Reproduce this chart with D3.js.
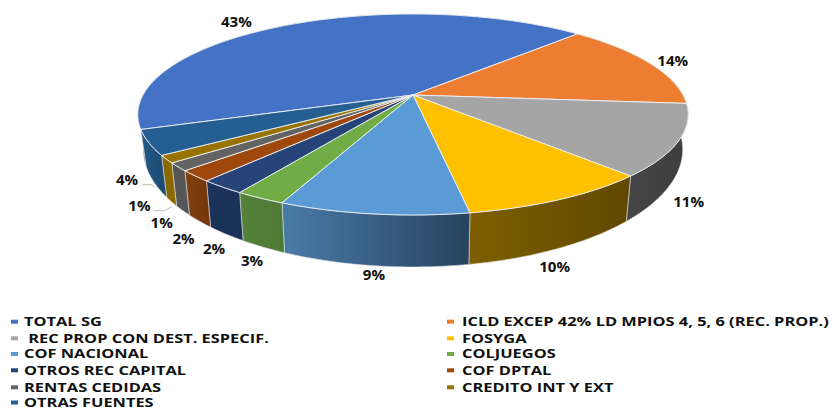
<!DOCTYPE html>
<html><head><meta charset="utf-8">
<script src="https://cdn.jsdelivr.net/npm/d3@7"></script>
<style>html,body{margin:0;padding:0;background:#fff}svg{display:block}text{font-family:"Open Sans",sans-serif;font-weight:700;fill:#111}</style>
</head><body><svg id="c" width="830" height="408"></svg>
<script>
const categories=["TOTAL SG","ICLD EXCEP 42% LD MPIOS 4, 5, 6 (REC. PROP.)"," REC PROP CON DEST. ESPECIF.","FOSYGA","COF NACIONAL","COLJUEGOS","OTROS REC CAPITAL","COF DPTAL","RENTAS CEDIDAS","CREDITO INT Y EXT","OTRAS FUENTES"];
const values=[42.8,14.2,11.49,9.5,9.3,2.5,2.3,1.8,1.3,1.2,4.0];
const labels=["43%","14%","11%","10%","9%","3%","2%","2%","1%","1%","4%"];
const topColors=["#4472c4","#ed7d31","#a5a5a5","#ffc000","#5b9bd5","#70ad47","#264478","#9e480e","#636363","#997300","#255e91"];
const wallFrom=["#34588f","#b05c24","#454545","#7d5e00","#4a7ba8","#54823a","#1b3259","#83400f","#565656","#8a6800","#225a88"];
const wallTo=["#34588f","#b05c24","#3e3e3e","#614800","#26435f","#4f7a36","#1b3259","#74370c","#565656","#8a6800","#1d4c74"];
const labelNudge=[[-51,-3],[23,-2],[15,23],[-3,19],[0,10],[-11,14],[-12,15.5],[-16,18],[-21,13],[-32,5],[-27,-1.5]];
const leaders=[false,false,false,false,false,false,false,false,false,true,true];

const svg=d3.select("#c");
const cx=413,cy=95,R=270,S=96.7,k=0.194;
const rimTop=t=>{const s=-Math.cos(t),c=Math.sin(t),w=1-k*s;return [cx+R*c/w,cy+S*s/w];};
const low=p=>[cx+(p[0]-cx)*0.98,150+(p[1]-115)*1.17];
const pie=d3.pie().value(d=>d).sort(null).startAngle(-109.5*Math.PI/180).endAngle((-109.5+360)*Math.PI/180);
const arcs=pie(values);
const samples=(a,b)=>d3.range(0,Math.max(2,Math.ceil((b-a)/0.02))+1).map((i,_,r)=>a+(b-a)*i/(r.length-1));
const line=d3.line();
const defs=svg.append("defs");
arcs.forEach((d,i)=>{
  const a=rimTop(d.startAngle),b=rimTop(d.endAngle);
  const g=defs.append("linearGradient").attr("id","w"+i).attr("gradientUnits","userSpaceOnUse")
    .attr("x1",Math.min(a[0],b[0])).attr("x2",Math.max(a[0],b[0])).attr("y1",0).attr("y2",0);
  g.append("stop").attr("offset",0).attr("stop-color",wallFrom[i]);
  g.append("stop").attr("offset",1).attr("stop-color",wallTo[i]);
});
const wallPts=d=>{const p=samples(d.startAngle,d.endAngle).map(rimTop);return p.concat(p.slice().reverse().map(low));};
svg.append("g").selectAll("path").data(arcs).join("path")
  .attr("d",d=>line(wallPts(d))+"Z").attr("fill",(d,i)=>`url(#w${i})`)
  .attr("stroke","#e4e4e4").attr("stroke-width",.7).attr("stroke-opacity",.8);
svg.append("g").selectAll("path").data(arcs).join("path")
  .attr("d",d=>line([[cx,cy]].concat(samples(d.startAngle,d.endAngle).map(rimTop)))+"Z")
  .attr("fill",(d,i)=>topColors[i]).attr("stroke","#eef2f6").attr("stroke-width",.9).attr("stroke-linejoin","round");

const anchor=d=>{const m=(d.startAngle+d.endAngle)/2,p=rimTop(m);
  const a=Math.cos(m);return a<0.1?low(p):p;};
const lab=arcs.map((d,i)=>{const p=anchor(d);return {x:p[0]+labelNudge[i][0],y:p[1]+labelNudge[i][1],p,i};});
svg.append("g").selectAll("path").data(lab.filter(d=>leaders[d.i])).join("path")
  .attr("fill","none").attr("stroke","#bdbdbd").attr("stroke-width",1)
  .attr("d",d=>line([[d.x+15,d.y+4],[d.x+25,d.y+4],[d.p[0]+.5,d.p[1]+5]]));
svg.append("g").selectAll("text").data(lab).join("text")
  .attr("text-anchor","middle").attr("font-size",13.5)
  .attr("transform",d=>`translate(${d.x},${d.y}) scale(1.12,1)`).attr("dy","0.35em").text(d=>labels[d.i]);

const rows=[321.7,338.3,354,370.3,387.3,402.5];
const colX=[24,462],keyX=[11,447];
const leg=svg.append("g");
const items=leg.selectAll("g").data(categories).join("g");
const pos=i=>i===10?[0,5]:[i%2,Math.floor(i/2)];
items.append("rect").attr("x",(d,i)=>keyX[pos(i)[0]]).attr("y",(d,i)=>rows[pos(i)[1]]-2).attr("width",7).attr("height",4).attr("fill",(d,i)=>topColors[i]);
const txt=items.append("text").attr("font-size",12.5).attr("dy","0.35em").style("white-space","pre").text(d=>d);
const probe=txt.filter((d,i)=>i===1).node().getComputedTextLength();
const sx=367/probe;
txt.attr("transform",(d,i)=>`translate(${colX[pos(i)[0]]},${rows[pos(i)[1]]}) scale(${sx},1)`);
</script></body></html>
